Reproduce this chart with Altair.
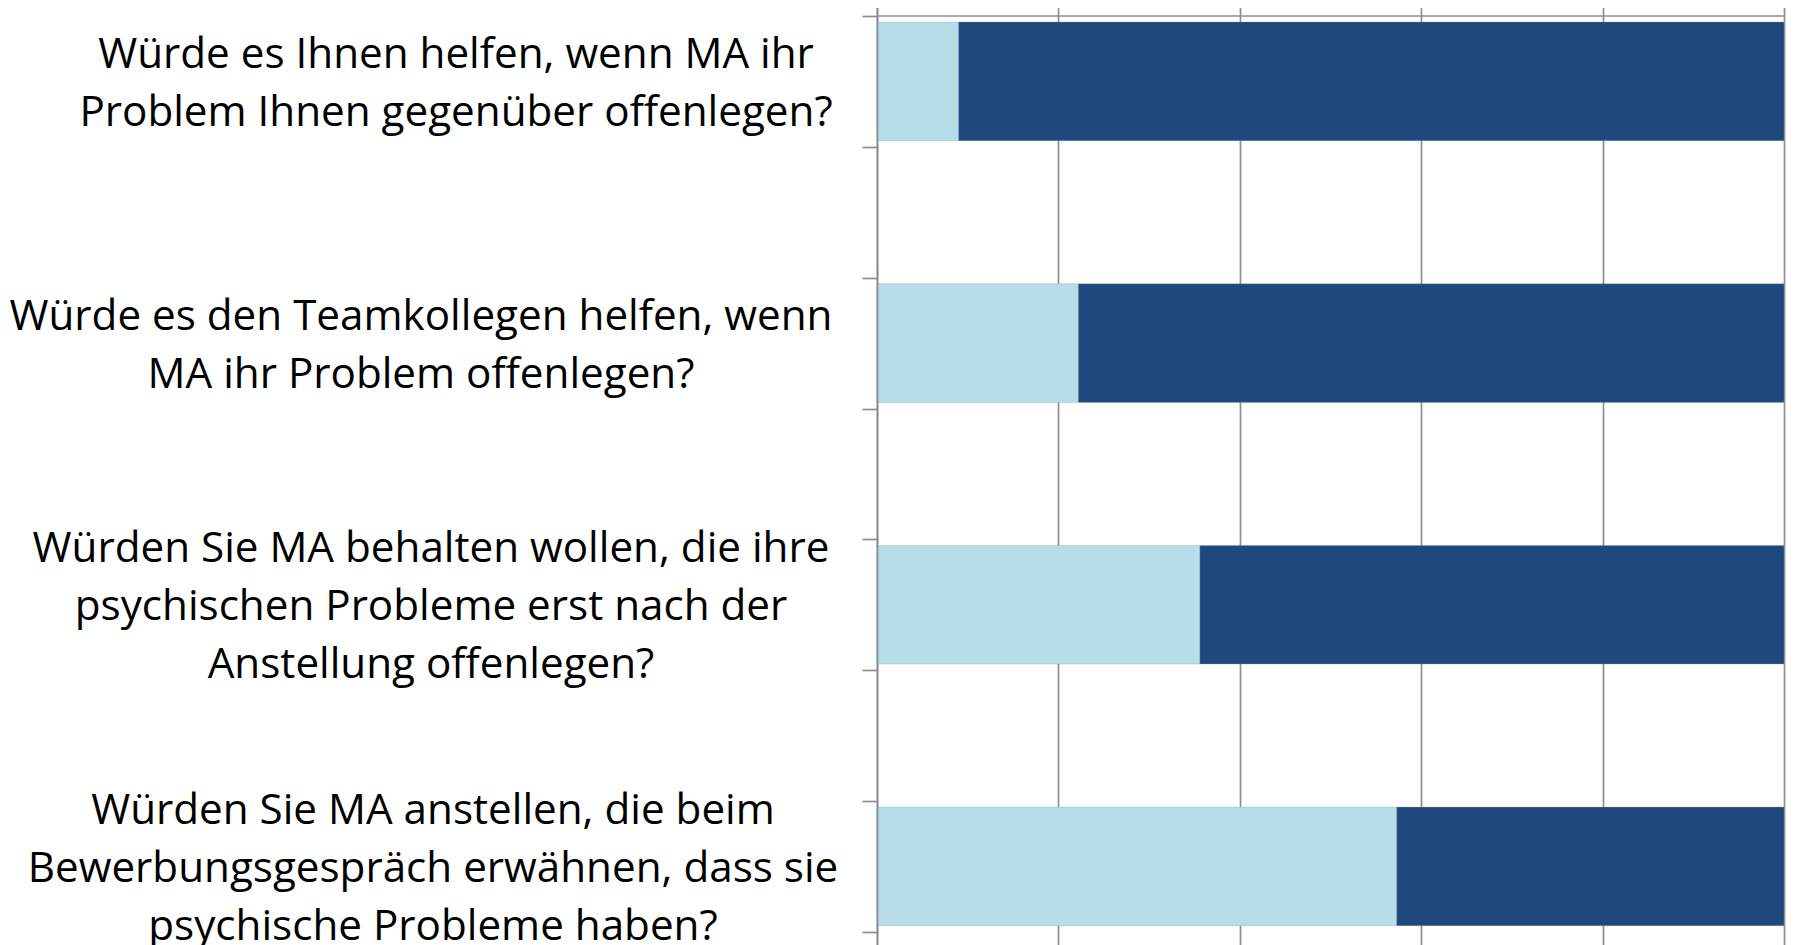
import altair as alt
import pandas as pd

# ---- data ----
QUESTIONS = [
    ["Würde es Ihnen helfen, wenn MA ihr", "Problem Ihnen gegenüber offenlegen?"],
    ["Würde es den Teamkollegen helfen, wenn", "MA ihr Problem offenlegen?"],
    ["Würden Sie MA behalten wollen, die ihre", "psychischen Probleme erst nach der", "Anstellung offenlegen?"],
    ["Würden Sie MA anstellen, die beim", "Bewerbungsgespräch erwähnen, dass sie", "psychische Probleme haben?"],
]
SERIES = ["Ja", "Nein"]
LIGHT_SHARE = [9.0, 22.2, 35.6, 57.3]
DARK_SHARE = [91.0, 77.8, 64.4, 42.7]
X_TICKS = [0, 20, 40, 60, 80, 100]

# ---- layout / style (not data) ----
COLORS = ["#B7DDE8", "#1F497D"]
GRID = "#8E8E8E"
FONT = "Open Sans"
FONT_SIZE = 42.2
LINE_HEIGHT = 58
LABEL_CENTER = [-421, -456, -446, -444]   # px centre of each label block, relative to plot left edge
SLOT_PX = 130.85
TOP_PAD = -8                               # plot area starts at the very top of the page
PLOT_W, PLOT_H = 907, 960
PAD_LEFT = 869
TEXT_SHIFT_PX = 2.5

rows = []
for i, (a, b) in enumerate(zip(LIGHT_SHARE, DARK_SHARE)):
    rows.append({"q": i, "series": SERIES[0], "order": 0, "value": a})
    rows.append({"q": i, "series": SERIES[1], "order": 1, "value": b})
bars_df = pd.DataFrame(rows)

labels_df = pd.DataFrame({
    "q": list(range(len(QUESTIONS))),
    "label": ["|".join(lines) for lines in QUESTIONS],
    "cx": LABEL_CENTER,
})

# first category boundary sits 16 px below the page top
y_top = -16 / SLOT_PX
y_bot = y_top + PLOT_H / SLOT_PX
yscale = alt.Scale(domain=[y_top, y_bot], reverse=True, nice=False, zero=False)
xscale = alt.Scale(domain=[0, 100], nice=False, zero=True)

bars = alt.Chart(bars_df).transform_stack(
    stack="value", groupby=["q"], as_=["x0", "x1"], sort=[alt.SortField("order")]
).transform_calculate(
    top="2 * datum.q + 0.046", bot="2 * datum.q + 0.953"
).mark_bar(stroke="#7F9CB8", strokeWidth=0.5, strokeOpacity=0.6).encode(
    x=alt.X("x0:Q", scale=xscale, axis=alt.Axis(
        values=X_TICKS, grid=True, gridColor=GRID, gridWidth=1.7,
        domain=False, ticks=False, labels=False, title=None)),
    x2="x1:Q",
    y=alt.Y("top:Q", scale=yscale, axis=alt.Axis(
        values=list(range(8)), labels=False, grid=False, ticks=True,
        tickSize=15, tickColor=GRID, tickWidth=1.7,
        domainColor=GRID, domainWidth=1.7, title=None, zindex=1)),
    y2="bot:Q",
    color=alt.Color("series:N", scale=alt.Scale(domain=SERIES, range=COLORS), legend=None),
)

top_rule = alt.Chart(pd.DataFrame({"a": [0], "b": [100], "y": [0]})).mark_rule(
    color=GRID, strokeWidth=1.7
).encode(
    x=alt.X("a:Q", scale=xscale),
    x2="b:Q",
    y=alt.Y("y:Q", scale=yscale),
)

texts = alt.Chart(labels_df).transform_calculate(
    lines="split(datum.label, '|')",
).transform_calculate(
    ypos=(f"2 * datum.q + 0.5 + {TEXT_SHIFT_PX / SLOT_PX}"
          f" - (length(datum.lines) - 1) * {LINE_HEIGHT / 2 / SLOT_PX}")
).mark_text(
    font=FONT, fontSize=FONT_SIZE, lineHeight=LINE_HEIGHT, align="center",
    baseline="middle", color="#000000"
).encode(
    x=alt.X("cx:Q", scale=None),
    y=alt.Y("ypos:Q", scale=yscale),
    text="lines:N",
)

chart = alt.layer(bars, top_rule, texts).properties(
    width=PLOT_W, height=PLOT_H,
    padding={"left": PAD_LEFT, "right": 5, "top": TOP_PAD, "bottom": 0},
    autosize=alt.AutoSizeParams(type="none"),
    background="white",
).configure_view(stroke=None)

chart.save("out.html", embed_options={"renderer": "svg", "actions": False})
